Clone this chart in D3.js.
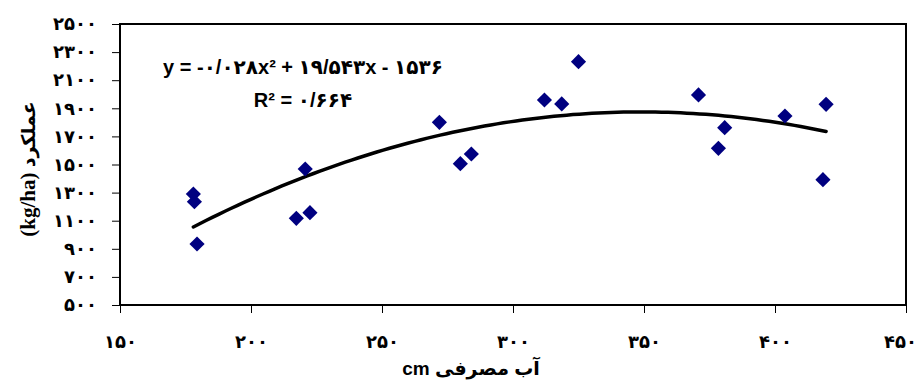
<!DOCTYPE html>
<html>
<head>
<meta charset="utf-8">
<script src="https://cdn.jsdelivr.net/npm/d3@7/dist/d3.min.js"></script>
<style>
  html, body { margin: 0; padding: 0; background: #fff; }
  svg { display: block; }
  .tick text { font-family: "DejaVu Sans", sans-serif; font-weight: bold; font-size: 18px; fill: #000; }
  .tick line { stroke: #000; }
</style>
</head>
<body>
<svg id="chart"></svg>
<script>
// water use (cm) and yield (kg/ha)
const waterUse = [178.0, 178.4, 179.4, 217.3, 222.5, 220.7, 271.9, 279.9, 284.1,
                  312.0, 318.6, 325.0, 370.8, 380.8, 378.4, 403.8, 419.5, 418.3];
const yieldVals = [1290, 1235, 934, 1117, 1157, 1468, 1800, 1506, 1575,
                   1959, 1931, 2232, 1995, 1762, 1615, 1845, 1928, 1392];

// trend line coefficients as printed: a, b, c
const trendCoef = [-0.028, 19.543, -1536];

const xTicks = [150, 200, 250, 300, 350, 400, 450];
const yTicks = [500, 700, 900, 1100, 1300, 1500, 1700, 1900, 2100, 2300, 2500];

const eqText = 'y = -۰/۰۲۸x² + ۱۹/۵۴۳x - ۱۵۳۶';
const r2Text = 'R² = ۰/۶۶۴';
const xTitle = 'cm آب مصرفی';
const yTitleLatin = '(kg/ha)';
const yTitleFa = 'عملکرد';

const W = 921, H = 385;
const plot = { left: 120, right: 906, top: 24, bottom: 305 };

// * helpers
const faDigits = '۰۱۲۳۴۵۶۷۸۹';
const toFa = (n) => String(n).replace(/[0-9]/g, (c) => faDigits[+c]);

const svg = d3.select('#chart').attr('width', W).attr('height', H);

const xScale = d3.scaleLinear().domain([150, 450]).range([plot.left, plot.right]);
const yScale = d3.scaleLinear().domain([500, 2500]).range([plot.bottom, plot.top]);

// axes
const yAxis = d3.axisLeft(yScale).tickValues(yTicks).tickSize(8).tickPadding(15).tickFormat(toFa);
const xAxis = d3.axisBottom(xScale).tickValues(xTicks).tickSize(8).tickFormat(toFa);

const yG = svg.append('g').attr('transform', `translate(${plot.left},0)`).call(yAxis);
yG.select('.domain').remove();

const xG = svg.append('g').attr('transform', `translate(0,${plot.bottom})`).call(xAxis);
xG.select('.domain').remove();
xG.selectAll('text').attr('y', 43).attr('dy', 0);
// last label sits against the right edge, pull it in a little
xG.selectAll('text').filter((d) => d === 450).attr('x', -6);

// frame
svg.append('rect')
   .attr('x', plot.left).attr('y', plot.top)
   .attr('width', plot.right - plot.left).attr('height', plot.bottom - plot.top)
   .attr('fill', 'none').attr('stroke', '#000').attr('stroke-width', 2);

// trend curve over the data range
const trend = (x) => trendCoef[0] * x * x + trendCoef[1] * x + trendCoef[2];
const xMin = d3.min(waterUse), xMax = d3.max(waterUse);
const curvePts = d3.range(0, 101).map((i) => xMin + (xMax - xMin) * i / 100);
svg.append('path')
   .datum(curvePts)
   .attr('d', d3.line().x((d) => xScale(d)).y((d) => yScale(trend(d))))
   .attr('fill', 'none').attr('stroke', '#000').attr('stroke-width', 3.5)
   .attr('stroke-linecap', 'round');

// points
const diamond = d3.symbol().type(d3.symbolSquare).size(115);
svg.append('g')
   .selectAll('path')
   .data(waterUse.map((x, i) => [x, yieldVals[i]]))
   .enter()
   .append('path')
   .attr('d', diamond)
   .attr('transform', (d) => `translate(${xScale(d[0])},${yScale(d[1])}) rotate(45)`)
   .attr('fill', '#000080');

// equation
const eq = svg.append('g')
   .attr('font-family', '"Liberation Sans", Arial, "DejaVu Sans", sans-serif')
   .attr('font-weight', 'bold').attr('font-size', 20).attr('text-anchor', 'middle');
eq.append('text').attr('x', 303).attr('y', 74).text(eqText);
eq.append('text').attr('x', 303).attr('y', 107).text(r2Text);

// axis titles
svg.append('text')
   .attr('x', 471).attr('y', 375)
   .attr('text-anchor', 'middle')
   .attr('font-family', '"Liberation Sans", Arial, "DejaVu Sans", sans-serif')
   .attr('font-weight', 'bold').attr('font-size', 19)
   .text(xTitle);

const yt = svg.append('text')
   .attr('transform', 'translate(35,169) rotate(-90)')
   .attr('text-anchor', 'middle')
   .attr('font-weight', 'bold');
yt.append('tspan')
   .attr('font-family', '"Liberation Serif", "Times New Roman", serif')
   .attr('font-size', 21)
   .text(yTitleLatin + '  ');
yt.append('tspan')
   .attr('font-family', '"DejaVu Sans", sans-serif')
   .attr('font-size', 19)
   .text(yTitleFa);
</script>
</body>
</html>
